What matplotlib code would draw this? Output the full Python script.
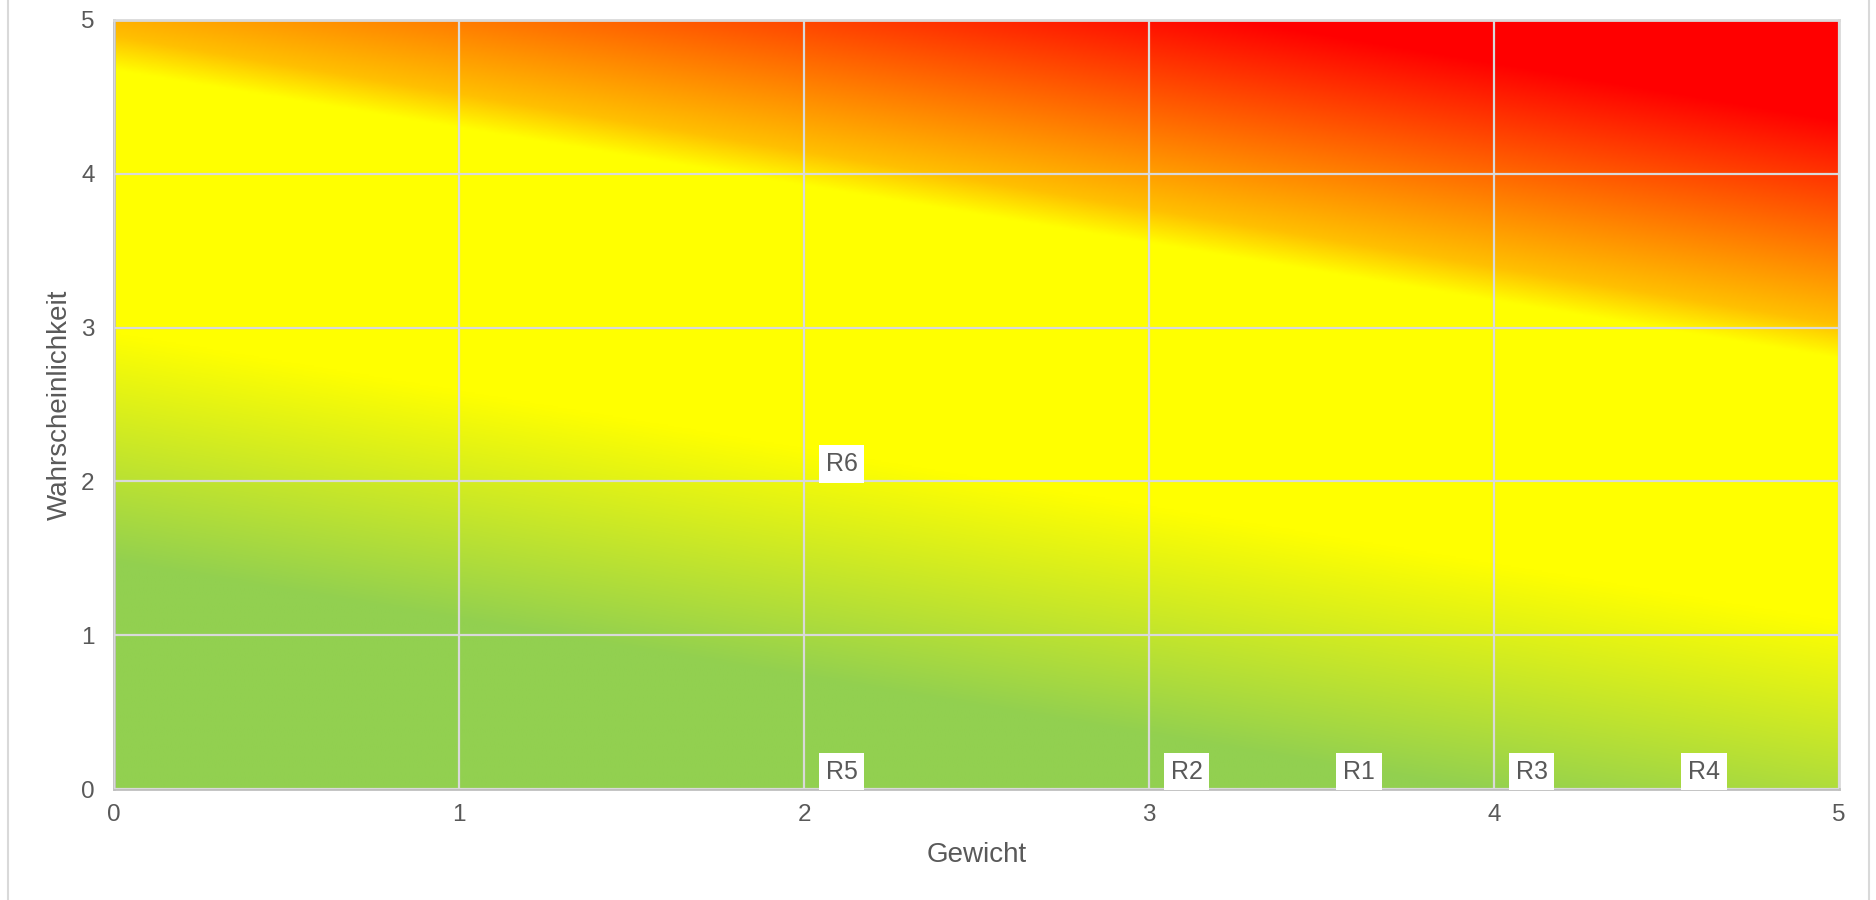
import numpy as np
import matplotlib
matplotlib.use("Agg")
import matplotlib.pyplot as plt
from matplotlib.colors import LinearSegmentedColormap, Normalize
from matplotlib.lines import Line2D

# ---- data ----
risks = ["R1", "R2", "R3", "R4", "R5", "R6"]
gewicht = [3.5, 3.0, 4.0, 4.5, 2.0, 2.0]
wahrscheinlichkeit = [0.0, 0.0, 0.0, 0.0, 0.0, 2.0]
x_ticks = [0, 1, 2, 3, 4, 5]
y_ticks = [0, 1, 2, 3, 4, 5]
x_label = "Gewicht"
y_label = "Wahrscheinlichkeit"

# background gradient (score = y + slope * x)
grad_slope = 0.375
grad_stops = [1.47, 2.96, 4.68, 4.90, 6.23]
grad_colors = ["#92D050", "#FFFF00", "#FFFF00", "#FFC000", "#FF0000"]

plt.rcParams["font.family"] = ["Liberation Sans", "DejaVu Sans"]

W, H = 1876, 900
fig = plt.figure(figsize=(W / 100, H / 100), dpi=100)
ax = fig.add_axes([114 / W, 1 - 789 / H, (1839 - 114) / W, (789 - 20) / H])

smax = 5 + grad_slope * 5
cmap = LinearSegmentedColormap.from_list(
    "risk", [(0.0, grad_colors[0])]
    + [(s / smax, c) for s, c in zip(grad_stops, grad_colors)]
    + [(1.0, grad_colors[-1])], N=1024)

gx = np.linspace(0, 5, 600)
gy = np.linspace(0, 5, 600)
GX, GY = np.meshgrid(gx, gy)
S = GY + grad_slope * GX
ax.imshow(S, origin="lower", extent=[0, 5, 0, 5], aspect="auto",
          cmap=cmap, norm=Normalize(0, smax), interpolation="bilinear", zorder=0)

ax.set_xlim(0, 5)
ax.set_ylim(0, 5)
ax.set_xticks(x_ticks)
ax.set_yticks(y_ticks)
ax.set_xticklabels([str(t) for t in x_ticks])
ax.set_yticklabels([str(t) for t in y_ticks])
ax.tick_params(length=0, labelsize=17.5, labelcolor="#595959")
ax.tick_params(axis="x", pad=11)
ax.tick_params(axis="y", pad=14)
ax.set_axisbelow(False)
ax.grid(True, color="#D9D9D9", linewidth=1.6, zorder=1)

for side in ["left", "bottom"]:
    ax.spines[side].set_color("#BFBFBF")
    ax.spines[side].set_linewidth(2)
for side in ["top", "right"]:
    ax.spines[side].set_color("#D9D9D9")
    ax.spines[side].set_linewidth(2)

ax.set_xlabel(x_label, fontsize=20, color="#595959", labelpad=11)
ax.set_ylabel(y_label, fontsize=20, color="#595959", labelpad=6)

ax.scatter(gewicht, wahrscheinlichkeit, s=0, zorder=3)
for name, gx_, gy_ in zip(risks, gewicht, wahrscheinlichkeit):
    ax.annotate(name, (gx_, gy_), xytext=(15.5, 3.8), textcoords="offset points",
                ha="left", va="bottom", fontsize=18, color="#595959",
                bbox=dict(boxstyle="square,pad=0.27", fc="white", ec="none"),
                annotation_clip=False, zorder=4)

# outer chart frame lines
fig.add_artist(Line2D([8 / W, 8 / W], [0, 1], color="#D9D9D9", linewidth=1.5,
                      transform=fig.transFigure))
fig.add_artist(Line2D([1869 / W, 1869 / W], [0, 1], color="#D9D9D9", linewidth=1.5,
                      transform=fig.transFigure))

fig.savefig("out.png", dpi=100)
